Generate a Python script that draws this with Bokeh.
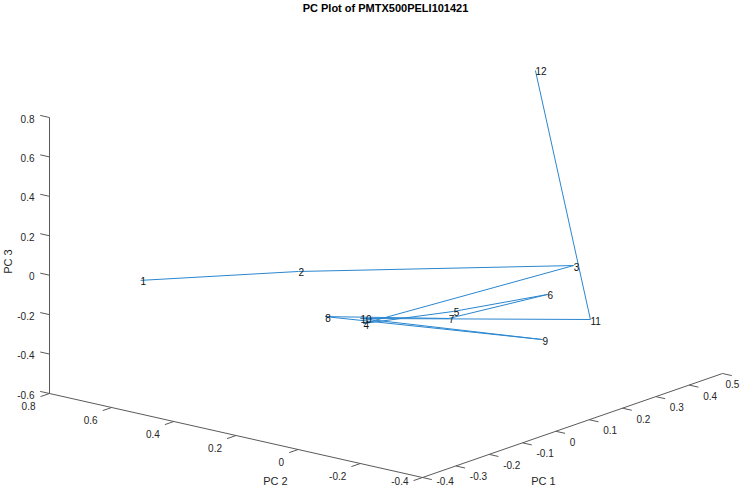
import math
from bokeh.plotting import figure
from bokeh.models import Range1d, ColumnDataSource
from bokeh.embed import file_html
from bokeh.resources import INLINE
from bokeh.core.properties import value

# ---------------- data ----------------
chart_title = "PC Plot of PMTX500PELI101421"
sample_labels = ["1", "2", "3", "4", "5", "6", "7", "8", "9", "10", "11", "12"]
pc1 = [-0.304, -0.073, 0.240, -0.111, 0.113, 0.255, 0.098, -0.132, 0.333, -0.120, 0.197, 0.460]
pc2 = [0.610, 0.350, -0.200, 0.100, 0.050, -0.100, 0.050, 0.200, 0.000, 0.100, -0.300, 0.159]
pc3 = [-0.015, -0.013, 0.029, -0.166, -0.218, -0.162, -0.245, -0.154, -0.472, -0.135, -0.184, 0.762]

pc1_ticks = [-0.4, -0.3, -0.2, -0.1, 0.0, 0.1, 0.2, 0.3, 0.4, 0.5]
pc1_tick_labels = ["-0.4", "-0.3", "-0.2", "-0.1", "0", "0.1", "0.2", "0.3", "0.4", "0.5"]
pc2_ticks = [-0.4, -0.2, 0.0, 0.2, 0.4, 0.6, 0.8]
pc2_tick_labels = ["-0.4", "-0.2", "0", "0.2", "0.4", "0.6", "0.8"]
pc3_ticks = [-0.6, -0.4, -0.2, 0.0, 0.2, 0.4, 0.6, 0.8]
pc3_tick_labels = ["-0.6", "-0.4", "-0.2", "0", "0.2", "0.4", "0.6", "0.8"]
pc1_lim = (-0.4, 0.5)
pc2_lim = (-0.4, 0.8)
pc3_lim = (-0.6, 0.8)
axis_titles = ["PC 1", "PC 2", "PC 3"]

# ---------------- 3D view (orthographic projection, screen px) ----------------
O_SCR = (422.0, 477.0)     # (x min, y min, z min)
X_END = (722.0, 373.0)     # (x max, y min, z min)
Y_END = (49.0, 393.0)      # (x min, y max, z min)
Z_END = (49.0, 117.0)      # (x min, y max, z max)

ex = ((X_END[0] - O_SCR[0]) / (pc1_lim[1] - pc1_lim[0]), (X_END[1] - O_SCR[1]) / (pc1_lim[1] - pc1_lim[0]))
ey = ((Y_END[0] - O_SCR[0]) / (pc2_lim[1] - pc2_lim[0]), (Y_END[1] - O_SCR[1]) / (pc2_lim[1] - pc2_lim[0]))
ez = ((Z_END[0] - Y_END[0]) / (pc3_lim[1] - pc3_lim[0]), (Z_END[1] - Y_END[1]) / (pc3_lim[1] - pc3_lim[0]))


def proj(x, y, z):
    u = x - pc1_lim[0]
    v = y - pc2_lim[0]
    w = z - pc3_lim[0]
    return (O_SCR[0] + ex[0] * u + ey[0] * v + ez[0] * w,
            O_SCR[1] + ex[1] * u + ey[1] * v + ez[1] * w)


def unit(d):
    n = math.hypot(d[0], d[1])
    return (d[0] / n, d[1] / n)


W, H = 742, 486
Y_MAX_TXT = H - 6
LABEL_W = 15   # approx width of a 3-char tick label at 10px

AX_COLOR = "#5a5a5a"
TXT_COLOR = "#262626"
FONT = value("Liberation Sans")

p = figure(width=W, height=H, x_range=Range1d(0, W), y_range=Range1d(H, 0),
           output_backend="svg", toolbar_location=None, min_border=0)
p.axis.visible = False
p.grid.visible = False
p.outline_line_color = None
p.background_fill_color = "white"
p.border_fill_color = "white"

# axis lines
a0 = proj(pc1_lim[0], pc2_lim[1], pc3_lim[0])
a1 = proj(pc1_lim[0], pc2_lim[1], pc3_lim[1])
b1 = proj(pc1_lim[0], pc2_lim[0], pc3_lim[0])
c1 = proj(pc1_lim[1], pc2_lim[0], pc3_lim[0])
xs = [[a0[0], a1[0]], [a0[0], b1[0]], [b1[0], c1[0]]]
ys = [[a0[1], a1[1]], [a0[1], b1[1]], [b1[1], c1[1]]]

# ticks
dir_z = unit(ey)                   # z ticks point along +PC2
dir_y = unit((-ex[0], -ex[1]))     # PC2 ticks point along -PC1
dir_x = unit((-ey[0], -ey[1]))     # PC1 ticks point along -PC2
TL = 9.5

zl_x, zl_y = [], []
for t in pc3_ticks:
    s = proj(pc1_lim[0], pc2_lim[1], t)
    xs.append([s[0], s[0] + TL * dir_z[0]])
    ys.append([s[1], s[1] + TL * dir_z[1]])
    zl_x.append(s[0] - 15)
    zl_y.append(s[1] + 1)

yl_x, yl_y = [], []
for t in pc2_ticks:
    s = proj(pc1_lim[0], t, pc3_lim[0])
    xs.append([s[0], s[0] + TL * dir_y[0]])
    ys.append([s[1], s[1] + TL * dir_y[1]])
    yl_x.append(s[0] - 14)
    yl_y.append(min(s[1] + 12, Y_MAX_TXT))

xl_x, xl_y = [], []
for t in pc1_ticks:
    s = proj(t, pc2_lim[0], pc3_lim[0])
    xs.append([s[0], s[0] + TL * dir_x[0]])
    ys.append([s[1], s[1] + TL * dir_x[1]])
    xl_x.append(min(s[0] + 14, W - 2 - LABEL_W))
    xl_y.append(min(s[1] + 10.5, Y_MAX_TXT))

p.multi_line(xs=xs, ys=ys, line_color=AX_COLOR, line_width=1)

p.text(x=zl_x, y=zl_y, text=pc3_tick_labels, text_font=FONT, text_font_size="10px",
       text_color=TXT_COLOR, text_align="right", text_baseline="middle")
p.text(x=yl_x, y=yl_y, text=pc2_tick_labels, text_font=FONT, text_font_size="10px",
       text_color=TXT_COLOR, text_align="right", text_baseline="middle")
p.text(x=xl_x, y=xl_y, text=pc1_tick_labels, text_font=FONT, text_font_size="10px",
       text_color=TXT_COLOR, text_align="left", text_baseline="middle")

# axis titles
p.text(x=[543], y=[min(483, Y_MAX_TXT)], text=[axis_titles[0]], text_font=FONT, text_font_size="11px",
       text_color=TXT_COLOR, text_align="center", text_baseline="middle")
p.text(x=[275], y=[min(487, Y_MAX_TXT)], text=[axis_titles[1]], text_font=FONT, text_font_size="11px",
       text_color=TXT_COLOR, text_align="center", text_baseline="middle")
p.text(x=[7], y=[261], text=[axis_titles[2]], text_font=FONT, text_font_size="11px",
       text_color=TXT_COLOR, text_align="center", text_baseline="middle", angle=math.pi / 2)

# title
p.text(x=[385], y=[7], text=[chart_title], text_font=FONT, text_font_size="11px",
       text_font_style="bold", text_color="#000000", text_align="center", text_baseline="middle")

# data path + labels
sx, sy = [], []
for a, b, c in zip(pc1, pc2, pc3):
    q = proj(a, b, c)
    sx.append(q[0])
    sy.append(q[1])
src = ColumnDataSource(dict(x=sx, y=sy, lab=sample_labels))
p.line(x="x", y="y", source=src, line_color="#2a86cf", line_width=1)
p.text(x="x", y="y", text="lab", source=src, text_font=FONT, text_font_size="10px",
       text_color="#111111", text_align="left", text_baseline="middle", y_offset=1)

open("out.html", "w").write(file_html(p, INLINE))
